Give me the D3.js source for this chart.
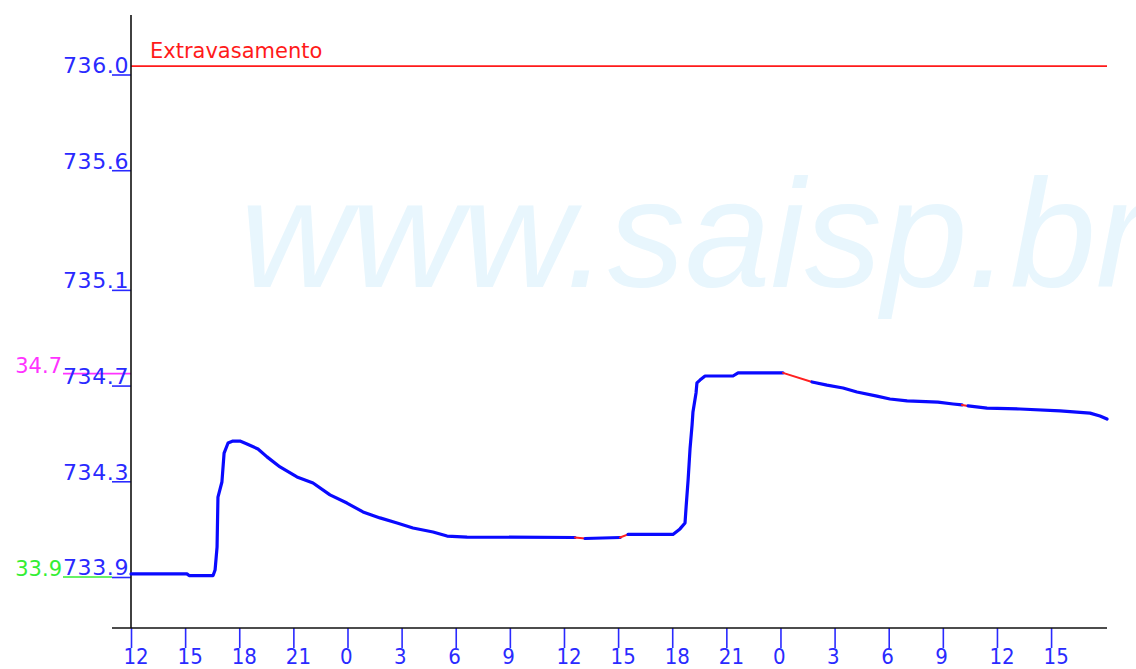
<!DOCTYPE html>
<html>
<head>
<meta charset="utf-8">
<script src="https://cdn.jsdelivr.net/npm/d3@7"></script>
<style>
  body { margin: 0; background: #fff; }
  svg { display: block; }
</style>
</head>
<body>
<svg id="chart" width="1136" height="669"></svg>
<script>
// level readings, hours since 12:00 of day 1
let hours = [0, 3.10, 3.22, 4.55, 4.66, 4.77, 4.82, 5.04, 5.16, 5.38, 5.65, 6.04, 6.43, 7.04, 7.54,
  8.26, 9.20, 10.09, 11.03, 11.97, 12.86, 13.80, 14.75, 15.63, 16.74, 17.52, 18.63, 24.61,
  25.17, 27.11, 27.55, 30.04, 30.43, 30.71, 30.77, 30.88, 30.99, 31.10, 31.15, 31.32, 31.37,
  31.54, 31.82, 33.37, 33.65, 36.14, 37.75, 38.58, 39.47, 40.24, 41.35, 42.07, 43.02, 44.73,
  45.57, 46.06, 46.40, 47.45, 49.28, 51.50, 53.16, 53.71, 54.10];
let levels = [733.913, 733.913, 733.906, 733.906, 733.929, 734.025, 734.234, 734.297, 734.418,
  734.460, 734.468, 734.468, 734.456, 734.435, 734.402, 734.360, 734.318, 734.293, 734.243,
  734.209, 734.172, 734.147, 734.126, 734.105, 734.088, 734.071, 734.067, 734.065, 734.061,
  734.065, 734.078, 734.078, 734.101, 734.126, 734.193, 734.305, 734.439, 734.535, 734.590,
  734.669, 734.711, 734.723, 734.740, 734.740, 734.753, 734.753, 734.715, 734.702, 734.690,
  734.673, 734.656, 734.644, 734.636, 734.631, 734.623, 734.619, 734.615, 734.606, 734.602,
  734.594, 734.585, 734.573, 734.560];
// stretches drawn in red (estimated readings)
let redSpans = [[24.61, 25.17], [27.11, 27.55], [36.14, 37.75], [46.06, 46.40]];

let yTicks = [733.9, 734.3, 734.7, 735.1, 735.6, 736.0];
let xTicks = d3.range(0, 54, 3);

// reference levels
let refValues = [736.035, 734.75, 733.9];
let refNames = ["Extravasamento", "34.7", "33.9"];
let refColors = ["#ff1a1a", "#ff33ff", "#33ee33"];

let svg = d3.select("#chart");
let x = d3.scaleLinear().domain([0, 54.1]).range([131, 1107]);
let y = d3.scaleLinear().domain([733.9, 736.0]).range([577, 74.5]);

// watermark
svg.append("text")
  .attr("x", 240).attr("y", 287)
  .attr("font-family", "Liberation Sans, Arial, sans-serif")
  .attr("font-style", "italic")
  .attr("font-size", 154)
  .attr("fill", "#e8f6fd")
  .text("www.saisp.br");

// overflow line with its label
svg.append("line")
  .attr("x1", x(0)).attr("x2", x(54.1))
  .attr("y1", y(refValues[0])).attr("y2", y(refValues[0]))
  .attr("stroke", refColors[0]).attr("stroke-width", 1.6);
svg.append("text")
  .attr("x", 150).attr("y", y(refValues[0]) - 8)
  .attr("font-family", "DejaVu Sans, sans-serif")
  .attr("font-size", 21)
  .attr("fill", refColors[0])
  .text(refNames[0]);

// left reference marks (alert levels)
for(let i = 1; i < refValues.length; i++) {
  let yy = y(refValues[i]);
  svg.append("line")
    .attr("x1", 63).attr("x2", i == 1 ? 131 : 112)
    .attr("y1", yy).attr("y2", yy)
    .attr("stroke", refColors[i]).attr("stroke-width", 1.6);
  svg.append("text")
    .attr("x", 62).attr("y", yy - 1)
    .attr("text-anchor", "end")
    .attr("font-family", "DejaVu Sans, sans-serif")
    .attr("font-size", 21)
    .attr("fill", refColors[i])
    .text(refNames[i]);
}

// y axis
let yAxis = svg.append("g").attr("transform", "translate(131,0)")
  .call(d3.axisLeft(y).tickValues(yTicks).tickFormat(d3.format(".1f"))
    .tickSize(19).tickPadding(-16));
yAxis.select(".domain").remove();
yAxis.selectAll(".tick line").attr("stroke", "#2a2aff").attr("stroke-width", 1.6);
yAxis.selectAll(".tick text")
  .attr("fill", "#2a2aff")
  .attr("font-family", "DejaVu Sans, sans-serif")
  .attr("font-size", 22)
  .attr("letter-spacing", 0.6)
  .attr("dy", "-0.1em")
  .attr("x", -2);
svg.append("line")
  .attr("x1", 131).attr("x2", 131).attr("y1", 15).attr("y2", 628)
  .attr("stroke", "#111").attr("stroke-width", 1.6);

// x axis
let xAxis = svg.append("g").attr("transform", "translate(0,628)")
  .call(d3.axisBottom(x).tickValues(xTicks).tickFormat(h => (12 + h) % 24)
    .tickSize(20).tickPadding(0));
xAxis.select(".domain").remove();
xAxis.selectAll(".tick line").attr("stroke", "#2a2aff").attr("stroke-width", 1.6);
xAxis.selectAll(".tick text")
  .attr("fill", "#2a2aff")
  .attr("font-family", "DejaVu Sans Condensed, DejaVu Sans, sans-serif")
  .attr("font-size", 22)
  .attr("text-anchor", "start")
  .attr("x", -8)
  .attr("dy", "0.72em");
svg.append("line")
  .attr("x1", 112).attr("x2", 1107).attr("y1", 628).attr("y2", 628)
  .attr("stroke", "#111").attr("stroke-width", 1.6);

// level series: split into blue and red pieces
let pts = hours.map((h, i) => ({h: h, v: levels[i]}));
let isRed = (a, b) => redSpans.some(s => (a.h + b.h) / 2 > s[0] && (a.h + b.h) / 2 < s[1]);
let line = d3.line().x(d => x(d.h)).y(d => y(d.v));
let pieces = [];
for(let i = 0; i < pts.length - 1; i++) {
  let red = isRed(pts[i], pts[i + 1]);
  let last = pieces[pieces.length - 1];
  if(last && last.red == red) last.pts.push(pts[i + 1]);
  else pieces.push({red: red, pts: [pts[i], pts[i + 1]]});
}
svg.append("g").selectAll("path").data(pieces).join("path")
  .attr("d", d => line(d.pts))
  .attr("fill", "none")
  .attr("stroke", d => d.red ? "#ff2020" : "#0a0aff")
  .attr("stroke-width", d => d.red ? 2 : 3.2)
  .attr("stroke-linejoin", "round")
  .attr("stroke-linecap", "round");
</script>
</body>
</html>
